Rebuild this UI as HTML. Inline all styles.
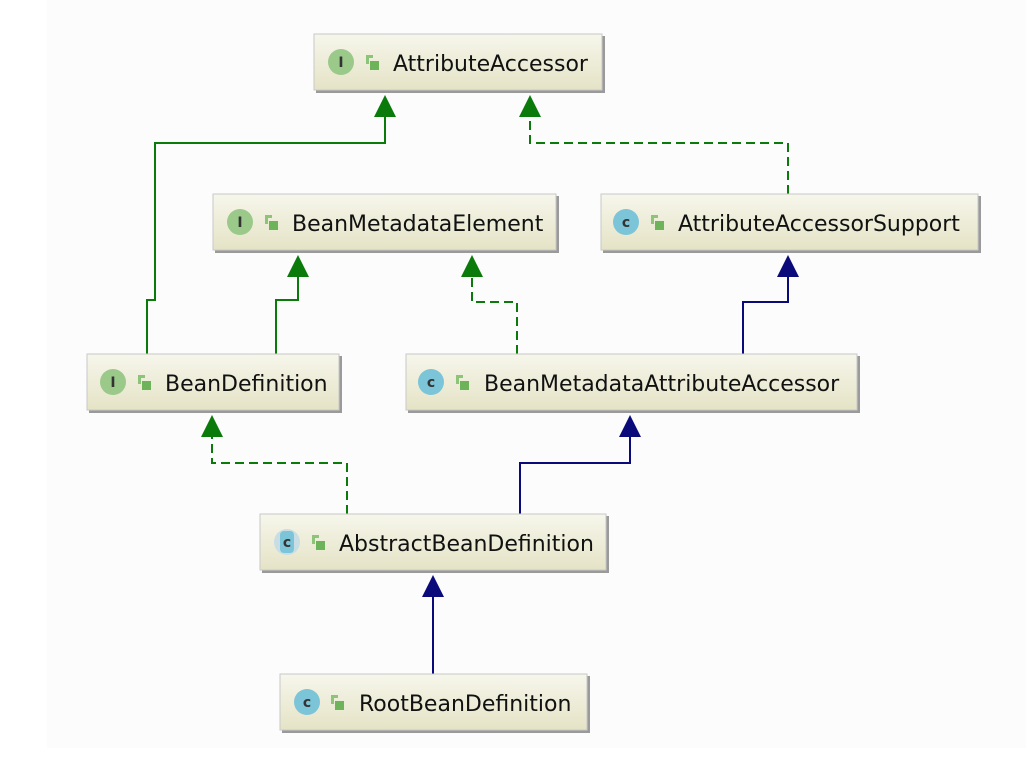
<!DOCTYPE html>
<html><head><meta charset="utf-8"><style>
html,body{margin:0;padding:0;background:#fff;}
svg{display:block;}
text{font-family:"DejaVu Sans","Liberation Sans",sans-serif;}
.ic{font-size:14px;font-weight:bold;fill:#333;}
</style></head><body>
<svg width="1026" height="775" viewBox="0 0 1026 775" xmlns="http://www.w3.org/2000/svg">
<defs>
<linearGradient id="g" x1="0" y1="0" x2="0" y2="1">
<stop offset="0" stop-color="#f6f6ec"/><stop offset="1" stop-color="#e5e3c6"/>
</linearGradient>
<g id="lock"><rect x="0" y="0" width="3" height="9" fill="#8cc57a"/><rect x="0" y="0" width="7" height="3" fill="#8cc57a"/><rect x="4" y="6" width="9" height="9" fill="#6db35a"/></g>
</defs>
<rect x="47" y="0" width="979" height="748" fill="#fcfcfc"/>

<g fill="none" stroke-width="2">
<polyline points="147,354 147,300 155,300 155,143 385,143 385,115" stroke="#0a7a0a"/>
<polyline points="788,194 788,143 530,143 530,115" stroke="#0a7a0a" stroke-dasharray="9,5"/>
<polyline points="276,354 276,300 298,300 298,275" stroke="#0a7a0a"/>
<polyline points="517,354 517,302 472,302 472,275" stroke="#0a7a0a" stroke-dasharray="9,5"/>
<polyline points="743,354 743,302 788,302 788,275" stroke="#0a0a7a"/>
<polyline points="347,514 347,463 212,463 212,435" stroke="#0a7a0a" stroke-dasharray="9,5"/>
<polyline points="520,514 520,463 630,463 630,435" stroke="#0a0a7a"/>
<polyline points="433,674 433,595" stroke="#0a0a7a"/>
</g>
<g>
<polygon points="385,95 374,117 396,117" fill="#0a7a0a"/>
<polygon points="530,95 519,117 541,117" fill="#0a7a0a"/>
<polygon points="298,255 287,277 309,277" fill="#0a7a0a"/>
<polygon points="472,255 461,277 483,277" fill="#0a7a0a"/>
<polygon points="788,255 777,277 799,277" fill="#0a0a7a"/>
<polygon points="212,415 201,437 223,437" fill="#0a7a0a"/>
<polygon points="630,415 619,437 641,437" fill="#0a0a7a"/>
<polygon points="433,575 422,597 444,597" fill="#0a0a7a"/>
</g>

<g style="font-size:22px" fill="#111">
<rect x="316" y="36" width="289" height="57" fill="#9a9a9a"/>
<rect x="314" y="34" width="288" height="56" fill="url(#g)" stroke="#c8c8c8"/>
<circle cx="341" cy="62" r="13" fill="#9bc98a"/><text x="341" y="67" class="ic" text-anchor="middle" font-family="Liberation Serif">I</text>
<use href="#lock" x="366" y="55"/>
<text x="393" y="71">AttributeAccessor</text>

<rect x="215" y="196" width="344" height="57" fill="#9a9a9a"/>
<rect x="213" y="194" width="343" height="56" fill="url(#g)" stroke="#c8c8c8"/>
<circle cx="240" cy="222" r="13" fill="#9bc98a"/><text x="240" y="227" class="ic" text-anchor="middle" font-family="Liberation Serif">I</text>
<use href="#lock" x="265" y="215"/>
<text x="292" y="231">BeanMetadataElement</text>

<rect x="603" y="196" width="378" height="57" fill="#9a9a9a"/>
<rect x="601" y="194" width="377" height="56" fill="url(#g)" stroke="#c8c8c8"/>
<circle cx="626" cy="222" r="13" fill="#7cc4d8"/><text x="626" y="227" class="ic" text-anchor="middle">c</text>
<use href="#lock" x="651" y="215"/>
<text x="678" y="231">AttributeAccessorSupport</text>

<rect x="89" y="356" width="253" height="57" fill="#9a9a9a"/>
<rect x="87" y="354" width="252" height="56" fill="url(#g)" stroke="#c8c8c8"/>
<circle cx="113" cy="382" r="13" fill="#9bc98a"/><text x="113" y="387" class="ic" text-anchor="middle" font-family="Liberation Serif">I</text>
<use href="#lock" x="138" y="375"/>
<text x="165" y="391">BeanDefinition</text>

<rect x="408" y="356" width="452" height="57" fill="#9a9a9a"/>
<rect x="406" y="354" width="451" height="56" fill="url(#g)" stroke="#c8c8c8"/>
<circle cx="431" cy="382" r="13" fill="#7cc4d8"/><text x="431" y="387" class="ic" text-anchor="middle">c</text>
<use href="#lock" x="456" y="375"/>
<text x="484" y="391">BeanMetadataAttributeAccessor</text>

<rect x="262" y="516" width="347" height="57" fill="#9a9a9a"/>
<rect x="260" y="514" width="346" height="56" fill="url(#g)" stroke="#c8c8c8"/>
<circle cx="287" cy="542" r="13" fill="#c8dde4"/><rect x="280" y="531" width="14" height="22" rx="4" fill="#7cc4d8"/><text x="287" y="547" class="ic" text-anchor="middle">c</text>
<use href="#lock" x="312" y="535"/>
<text x="339" y="551">AbstractBeanDefinition</text>

<rect x="282" y="676" width="308" height="57" fill="#9a9a9a"/>
<rect x="280" y="674" width="307" height="56" fill="url(#g)" stroke="#c8c8c8"/>
<circle cx="307" cy="702" r="13" fill="#7cc4d8"/><text x="307" y="707" class="ic" text-anchor="middle">c</text>
<use href="#lock" x="331" y="695"/>
<text x="359" y="711">RootBeanDefinition</text>
</g>
</svg>
</body></html>
